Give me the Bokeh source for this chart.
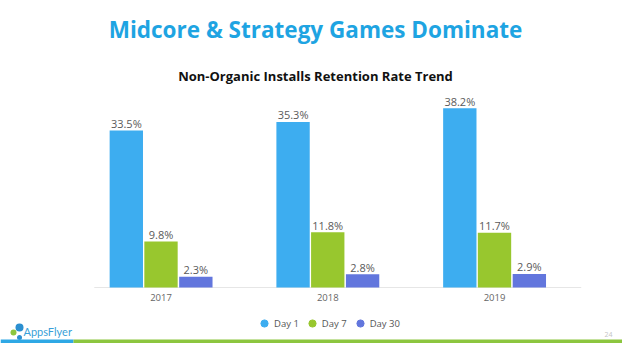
from bokeh.plotting import figure
from bokeh.models import Range1d, Label, Legend, LegendItem, ColumnDataSource
from bokeh.embed import file_html
from bokeh.resources import INLINE
from bokeh.core.properties import value

# ---- data ----
years = ["2017", "2018", "2019"]
series = ["Day 1", "Day 7", "Day 30"]
day1 = [33.5, 35.3, 38.2]
day7 = [9.8, 11.8, 11.7]
day30 = [2.3, 2.8, 2.9]

title_text = "Midcore & Strategy Games Dominate"
subtitle_text = "Non-Organic Installs Retention Rate Trend"
colors = ["#3dadf0", "#98c72e", "#6276dd"]

# ---- layout (picture pixels) ----
W, H = 622, 343
GROUP_PX = 166.75     # pixels between group centres
FIRST_PX = 160.5      # first group centre, from left
BASE_PX = 287         # zero line, from top
PCT_PX = 4.69         # pixels per percentage point
FONT = "Open Sans"

x0 = -FIRST_PX / GROUP_PX
x1 = (W - FIRST_PX) / GROUP_PX
y0 = -(H - BASE_PX) / PCT_PX
y1 = BASE_PX / PCT_PX


def dx(px):
    return x0 + px / GROUP_PX


def dy(py):
    return y0 + (H - py) / PCT_PX


p = figure(width=W, height=H, x_range=Range1d(x0, x1), y_range=Range1d(y0, y1),
           output_backend="svg", toolbar_location=None, min_border=0,
           x_axis_location=None, y_axis_location=None)
p.grid.visible = False
p.outline_line_color = None
p.background_fill_color = "white"
p.border_fill_color = "white"

# baseline (category axis line)
p.segment(x0=[-0.4], y0=[0], x1=[len(years) - 0.48], y1=[0],
          line_color="#e6e6e6", line_width=1)

offsets = [-0.208, 0.0, 0.209]
bar_w = 0.2
legend_items = []
for i, (name, vals) in enumerate(zip(series, [day1, day7, day30])):
    xs = [j + offsets[i] for j in range(len(years))]
    src = ColumnDataSource(dict(x=xs, top=vals,
                                label=[f"{v:.1f}%" for v in vals]))
    p.vbar(x="x", top="top", bottom=0, width=bar_w, source=src,
           fill_color=colors[i], line_color=None)
    p.text(x="x", y="top", text="label", source=src, text_align="center",
           text_baseline="middle", y_offset=-7,
           text_font=value(FONT), text_font_size="11px", text_color="#5a5a5a")
    # legend proxy: zero-size markers (legend draws its own circle size)
    proxy = p.scatter(x="x", y="top", source=src, marker="circle", size=0,
                      fill_color=colors[i], line_color=colors[i])
    legend_items.append(LegendItem(label=name, renderers=[proxy]))

# year labels
ysrc = ColumnDataSource(dict(x=list(range(len(years))), y=[0] * len(years), t=years))
p.text(x="x", y="y", text="t", source=ysrc, text_align="center",
       text_baseline="middle", y_offset=10,
       text_font=value(FONT), text_font_size="9.5px", text_color="#666666")

legend = Legend(items=legend_items, orientation="horizontal", location=(255, 11),
                glyph_width=18, glyph_height=18, label_standoff=1, spacing=4,
                padding=0, margin=0, border_line_color=None,
                background_fill_alpha=0, label_text_font=FONT,
                label_text_font_size="9.5px", label_text_color="#555555")
p.add_layout(legend)

# titles
p.add_layout(Label(x=315, y=H - 29, x_units="screen", y_units="screen",
                   text=title_text, text_align="center", text_baseline="middle",
                   text_font=FONT, text_font_size="22.5px", text_font_style="bold",
                   text_color="#1ea4e2"))
p.add_layout(Label(x=315, y=H - 75, x_units="screen", y_units="screen",
                   text=subtitle_text, text_align="center", text_baseline="middle",
                   text_font=FONT, text_font_size="13px", text_font_style="bold",
                   text_color="#111111"))

# footer: logo, page number, bar
p.scatter(x=[dx(19), dx(13), dx(19)], y=[dy(327), dy(332), dy(337)],
          marker="circle", size=[8, 6, 5],
          fill_color=["#2b8fd0", "#8cc63f", "#2b8fd0"], line_color=None)
p.add_layout(Label(x=23, y=H - 331, x_units="screen", y_units="screen",
                   text="AppsFlyer", text_align="left", text_baseline="middle",
                   text_font="Lato", text_font_size="11px", text_color="#3a9fd8"))
p.add_layout(Label(x=608, y=H - 334, x_units="screen", y_units="screen",
                   text="24", text_align="center", text_baseline="middle",
                   text_font=FONT, text_font_size="7px", text_color="#c4c4c4"))
p.quad(left=[dx(0), dx(73)], right=[dx(73), dx(W)],
       bottom=[dy(H), dy(H)], top=[dy(339), dy(339)],
       fill_color=["#2fa8e5", "#8cc63f"], line_color=None)

open("out.html", "w").write(file_html(p, INLINE))
